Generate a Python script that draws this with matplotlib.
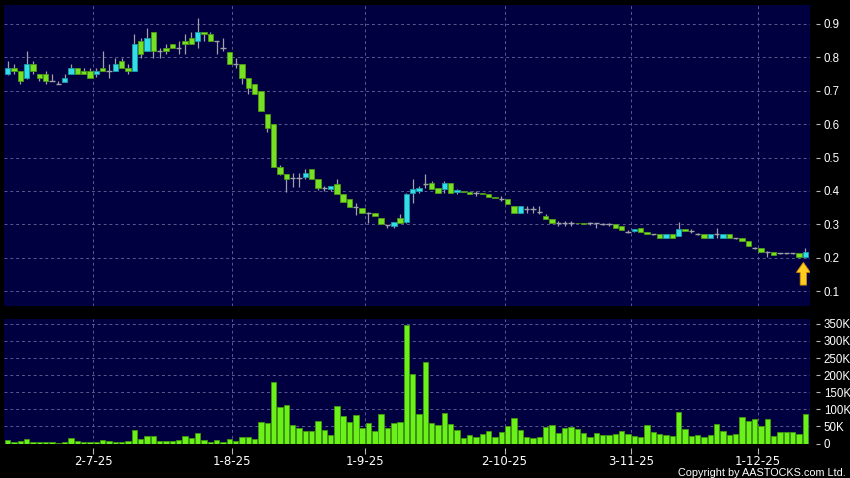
import matplotlib
matplotlib.use("Agg")
import matplotlib.pyplot as plt
from matplotlib.ticker import FuncFormatter

# daily candles, oldest first (bar index 0..126)
opens = [0.750, 0.767, 0.759, 0.737, 0.779, 0.749, 0.749, 0.729, 0.719, 0.727,
         0.750, 0.767, 0.759, 0.759, 0.750, 0.767, 0.759, 0.759, 0.789, 0.767,
         0.759, 0.849, 0.819, 0.877, 0.819, 0.827, 0.839, 0.827, 0.849, 0.857,
         0.849, 0.877, 0.869, 0.849, 0.827, 0.817, 0.779, 0.779, 0.737, 0.719,
         0.699, 0.629, 0.599, 0.473, 0.450, 0.438, 0.438, 0.443, 0.465, 0.435,
         0.408, 0.405, 0.420, 0.390, 0.375, 0.353, 0.348, 0.333, 0.333, 0.318,
         0.298, 0.295, 0.318, 0.308, 0.393, 0.400, 0.420, 0.423, 0.408, 0.405,
         0.423, 0.398, 0.400, 0.398, 0.393, 0.395, 0.390, 0.383, 0.376, 0.375,
         0.355, 0.333, 0.345, 0.345, 0.338, 0.325, 0.317, 0.303, 0.303, 0.303,
         0.305, 0.305, 0.303, 0.303, 0.300, 0.300, 0.300, 0.295, 0.278, 0.280,
         0.288, 0.278, 0.270, 0.270, 0.258, 0.270, 0.265, 0.285, 0.280, 0.270,
         0.270, 0.258, 0.270, 0.258, 0.270, 0.258, 0.258, 0.250, 0.230, 0.228,
         0.216, 0.216, 0.213, 0.213, 0.213, 0.213, 0.201]
highs = [0.789, 0.779, 0.759, 0.819, 0.789, 0.749, 0.759, 0.749, 0.729, 0.749,
         0.779, 0.767, 0.767, 0.767, 0.767, 0.819, 0.779, 0.797, 0.797, 0.779,
         0.869, 0.859, 0.887, 0.877, 0.827, 0.839, 0.839, 0.849, 0.869, 0.877,
         0.917, 0.877, 0.877, 0.849, 0.859, 0.817, 0.797, 0.779, 0.737, 0.719,
         0.699, 0.629, 0.600, 0.477, 0.452, 0.453, 0.453, 0.465, 0.465, 0.435,
         0.415, 0.415, 0.435, 0.390, 0.375, 0.363, 0.348, 0.338, 0.333, 0.318,
         0.298, 0.308, 0.330, 0.395, 0.435, 0.415, 0.450, 0.430, 0.408, 0.430,
         0.423, 0.405, 0.400, 0.400, 0.400, 0.395, 0.390, 0.383, 0.385, 0.375,
         0.355, 0.355, 0.355, 0.355, 0.355, 0.330, 0.317, 0.310, 0.310, 0.310,
         0.305, 0.305, 0.308, 0.303, 0.305, 0.305, 0.300, 0.295, 0.283, 0.285,
         0.288, 0.278, 0.272, 0.270, 0.270, 0.270, 0.308, 0.285, 0.285, 0.275,
         0.270, 0.270, 0.290, 0.270, 0.270, 0.260, 0.258, 0.250, 0.233, 0.228,
         0.220, 0.216, 0.215, 0.215, 0.215, 0.213, 0.230]
lows = [0.747, 0.750, 0.719, 0.734, 0.750, 0.729, 0.719, 0.729, 0.719, 0.727,
        0.750, 0.750, 0.750, 0.737, 0.740, 0.759, 0.737, 0.759, 0.767, 0.750,
        0.759, 0.797, 0.819, 0.797, 0.797, 0.809, 0.827, 0.809, 0.809, 0.839,
        0.827, 0.849, 0.849, 0.809, 0.819, 0.779, 0.769, 0.719, 0.689, 0.689,
        0.639, 0.577, 0.473, 0.447, 0.398, 0.413, 0.413, 0.435, 0.435, 0.403,
        0.400, 0.400, 0.390, 0.368, 0.353, 0.328, 0.333, 0.303, 0.325, 0.300,
        0.290, 0.290, 0.303, 0.303, 0.363, 0.395, 0.410, 0.405, 0.393, 0.395,
        0.393, 0.390, 0.398, 0.390, 0.385, 0.390, 0.383, 0.378, 0.370, 0.360,
        0.333, 0.333, 0.335, 0.335, 0.330, 0.317, 0.303, 0.295, 0.295, 0.295,
        0.303, 0.302, 0.297, 0.290, 0.297, 0.295, 0.288, 0.283, 0.275, 0.278,
        0.278, 0.270, 0.268, 0.258, 0.258, 0.258, 0.265, 0.280, 0.275, 0.268,
        0.258, 0.258, 0.258, 0.258, 0.258, 0.255, 0.250, 0.235, 0.225, 0.216,
        0.201, 0.208, 0.210, 0.210, 0.210, 0.201, 0.201]
closes = [0.767, 0.759, 0.729, 0.779, 0.759, 0.737, 0.729, 0.729, 0.719, 0.737,
          0.767, 0.750, 0.750, 0.737, 0.759, 0.759, 0.759, 0.779, 0.767, 0.759,
          0.839, 0.809, 0.857, 0.819, 0.819, 0.819, 0.827, 0.827, 0.839, 0.839,
          0.877, 0.869, 0.849, 0.849, 0.827, 0.779, 0.779, 0.737, 0.707, 0.689,
          0.639, 0.587, 0.473, 0.450, 0.435, 0.438, 0.438, 0.453, 0.435, 0.408,
          0.408, 0.415, 0.390, 0.368, 0.353, 0.353, 0.333, 0.333, 0.325, 0.300,
          0.298, 0.308, 0.303, 0.390, 0.405, 0.408, 0.420, 0.405, 0.393, 0.423,
          0.393, 0.402, 0.398, 0.390, 0.393, 0.390, 0.383, 0.378, 0.376, 0.360,
          0.333, 0.355, 0.345, 0.345, 0.338, 0.317, 0.303, 0.303, 0.303, 0.303,
          0.303, 0.302, 0.303, 0.303, 0.300, 0.300, 0.288, 0.283, 0.278, 0.285,
          0.278, 0.270, 0.270, 0.258, 0.270, 0.258, 0.285, 0.280, 0.280, 0.270,
          0.258, 0.270, 0.270, 0.270, 0.258, 0.258, 0.250, 0.235, 0.230, 0.216,
          0.216, 0.208, 0.213, 0.213, 0.213, 0.201, 0.216]
# volume in thousands of shares
volumes = [10, 4, 7, 12, 3, 3, 3, 3, 2, 3, 16, 6, 5, 4, 4, 9, 8, 4, 4, 6,
           40, 14, 21, 23, 6, 6, 6, 11, 22, 16, 31, 11, 5, 11, 5, 13, 6, 20, 20, 12,
           62, 60, 181, 108, 113, 54, 46, 36, 36, 65, 39, 26, 110, 79, 62, 83, 46, 60, 37, 85,
           46, 60, 62, 348, 204, 85, 237, 59, 54, 90, 57, 39, 15, 24, 18, 28, 36, 18, 33, 50,
           75, 39, 18, 17, 18, 48, 54, 30, 45, 47, 42, 30, 18, 31, 25, 25, 28, 36, 29, 23,
           18, 54, 33, 29, 24, 22, 91, 42, 22, 24, 19, 26, 58, 36, 26, 28, 78, 65, 73, 52,
           73, 22, 33, 33, 33, 29, 85]

date_labels = ["2-7-25", "1-8-25", "1-9-25", "2-10-25", "3-11-25", "1-12-25"]
date_bar = [14, 36, 57, 79, 99, 119]   # first bar of each labelled date
price_ticks = [0.1, 0.2, 0.3, 0.4, 0.5, 0.6, 0.7, 0.8, 0.9]
vol_ticks = [0, 50, 100, 150, 200, 250, 300, 350]

NAVY = "#000040"
UP = "#33dde8"
DOWN = "#77e022"
GRID = "#5a5a90"

plt.rcParams["font.family"] = ["DejaVu Sans"]

fig = plt.figure(figsize=(8.5, 4.78), dpi=100, facecolor="black")
ax1 = fig.add_axes([4 / 850, 1 - 306 / 478, 806 / 850, 301 / 478])
ax2 = fig.add_axes([4 / 850, 1 - 443.5 / 478, 806 / 850, 124.8 / 478])

x = list(range(len(closes)))
grid_x = [b - 0.5 for b in date_bar]

for ax in (ax1, ax2):
    ax.set_facecolor(NAVY)
    for s in ax.spines.values():
        s.set_visible(False)
    ax.set_xlim(-0.585, 126.75)
    ax.set_xticks(grid_x)
    ax.yaxis.tick_right()
    ax.spines["right"].set_position(("outward", 4))
    ax.tick_params(axis="y", colors="#b8b8b8", labelcolor="white", length=3,
                   width=0.8, pad=3)
    ax.grid(True, color=GRID, linestyle=(0, (3, 3)), linewidth=0.7)
    ax.set_axisbelow(True)
    for lab in ax.get_yticklabels():
        lab.set_fontfamily("Liberation Sans")

# candles
up = [i for i in x if closes[i] > opens[i]]
dn = [i for i in x if closes[i] < opens[i]]
flat = [i for i in x if closes[i] == opens[i]]

ax1.vlines(x, lows, highs, color="#a0a0a8", linewidth=0.9, zorder=2)
ax1.bar(up, [closes[i] - opens[i] for i in up], bottom=[opens[i] for i in up],
        width=0.85, color=UP, edgecolor="#1c9aa8", linewidth=0.6, zorder=3)
ax1.bar(dn, [opens[i] - closes[i] for i in dn], bottom=[closes[i] for i in dn],
        width=0.85, color=DOWN, edgecolor="#4c9a14", linewidth=0.6, zorder=3)
ax1.hlines([closes[i] for i in flat], [i - 0.42 for i in flat], [i + 0.42 for i in flat],
           color="#a0a0a8", linewidth=1.0, zorder=3)

ax1.set_ylim(0.0554, 0.9566)
ax1.set_yticks(price_ticks)
ax1.yaxis.set_major_formatter(FuncFormatter(lambda v, p: f"{v:.1f}"))
ax1.tick_params(axis="x", length=0, labelbottom=False)

# yellow arrow under the last candle
ax1.arrow(125.7, 0.118, 0, 0.068, width=1.0, head_width=2.2, head_length=0.03,
          length_includes_head=True, facecolor="#ffcc22", edgecolor="#d08a00",
          linewidth=0.6, zorder=5)

# volume
ax2.bar(x, volumes, width=0.85, color="#6cf01a", edgecolor="#3f9a0c", linewidth=0.6, zorder=3)
ax2.set_ylim(0, 365)
ax2.set_yticks(vol_ticks)
ax2.yaxis.set_major_formatter(FuncFormatter(lambda v, p: "0" if v == 0 else f"{int(v)}K"))
ax2.set_xticklabels(date_labels)
ax2.spines["bottom"].set_position(("outward", 3))
ax2.tick_params(axis="x", colors="#b8b8b8", labelcolor="white", length=4,
                width=0.8, pad=1.5, labelsize=8.5)

for ax in (ax1, ax2):
    for lab in ax.get_yticklabels():
        lab.set_fontfamily("Liberation Sans")
        lab.set_fontsize(8.3)

fig.text(846 / 850, 1 - 475.5 / 478, "Copyright by AASTOCKS.com Ltd.", color="white",
         fontsize=7.8, ha="right", va="baseline", family="Liberation Sans")

fig.savefig("out.png", dpi=100, facecolor="black")
